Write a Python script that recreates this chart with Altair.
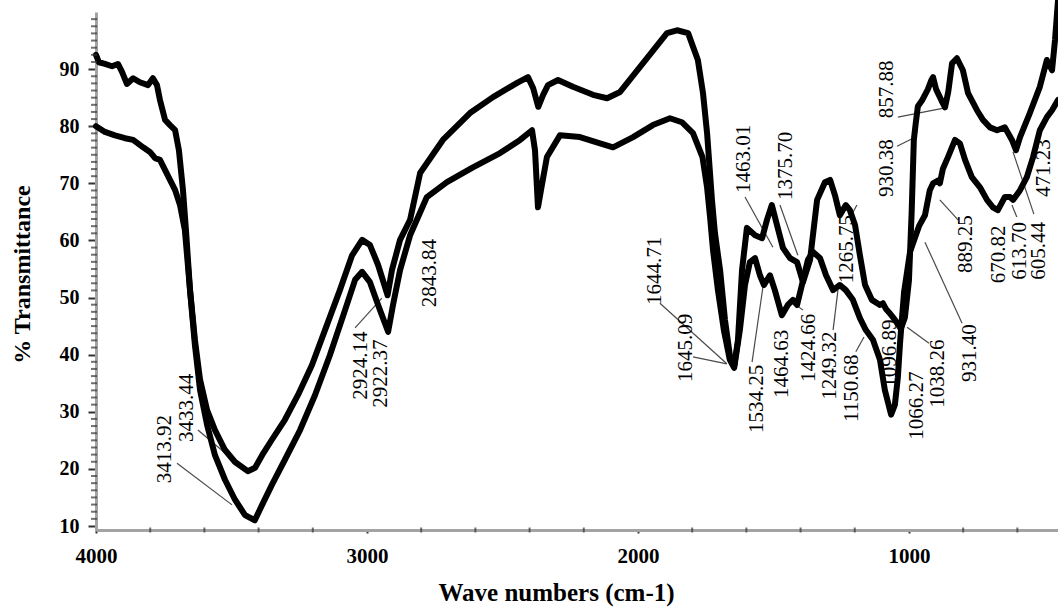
import altair as alt
import pandas as pd

# FTIR spectra: wavenumber (cm-1) and % transmittance for the two samples
upper_wn = [4000, 3989, 3967, 3941, 3919, 3904, 3886, 3863, 3838, 3808, 3790, 3775, 3764, 3745,
            3727, 3708, 3694, 3679, 3668, 3653, 3635, 3616, 3590, 3561, 3524, 3487, 3440, 3413,
            3387, 3351, 3303, 3255, 3203, 3155, 3100, 3055, 3018, 2989, 2959, 2924, 2908, 2878,
            2841, 2804, 2720, 2620, 2535, 2446, 2406, 2387, 2368, 2350, 2332, 2295, 2240, 2166,
            2114, 2066, 1982, 1893, 1856, 1815, 1779, 1760, 1745, 1727, 1716, 1697, 1679, 1661,
            1645, 1631, 1616, 1598, 1568, 1542, 1524, 1506, 1487, 1465, 1439, 1413, 1391, 1365,
            1339, 1310, 1291, 1273, 1255, 1233, 1218, 1199, 1181, 1162, 1137, 1107, 1096, 1085,
            1070, 1050, 1030, 1015, 1000, 990, 982, 975, 967, 952, 941, 930, 918, 911, 900, 893,
            880, 867, 855, 841, 823, 801, 782, 749, 727, 701, 675, 646, 620, 605, 590, 554, 517,
            491, 472, 461, 450]
upper_t = [92.5, 91.2, 90.9, 90.5, 90.9, 89.5, 87.4, 88.4, 87.7, 87.2, 88.4, 87.2, 84.6, 81.1,
           80.2, 79.3, 75.8, 68.8, 61.8, 51.3, 42.6, 35.6, 30.3, 26.8, 23.3, 21.2, 19.6, 20.2,
           22.4, 25.1, 28.6, 32.9, 38.2, 44.3, 51.3, 57.4, 60.1, 59.2, 55.7, 50.4, 54.8, 60.1,
           63.6, 71.8, 77.6, 82.3, 85.1, 87.6, 88.6, 86.7, 83.4, 85.5, 87.2, 88.1, 86.9, 85.5,
           84.9, 86.0, 91.0, 96.3, 96.8, 96.3, 91.6, 85.8, 78.8, 67.1, 61.3, 54.8, 46.1, 39.9,
           38.0, 42.6, 54.8, 62.2, 60.9, 60.4, 63.6, 66.2, 62.7, 58.7, 56.9, 56.2, 52.7, 56.6,
           67.1, 70.2, 70.6, 67.9, 64.4, 66.2, 65.3, 62.7, 57.4, 52.2, 49.6, 48.7, 49.0, 48.0,
           47.2, 46.0, 44.5, 46.5, 53.0, 65.0, 77.6, 80.5, 83.5, 84.5, 85.5, 86.5, 88.0, 88.6,
           86.5, 85.8, 84.5, 83.3, 86.0, 91.0, 91.9, 89.8, 85.8, 82.8, 81.1, 79.8, 79.3, 79.8,
           77.6, 75.8, 78.1, 82.3, 86.9, 91.6, 89.8, 95.1, 102.0]

lower_wn = [4000, 3967, 3930, 3893, 3863, 3826, 3801, 3782, 3764, 3745, 3727, 3708, 3690, 3672,
            3653, 3635, 3616, 3590, 3561, 3524, 3487, 3450, 3414, 3387, 3351, 3303, 3247, 3192,
            3137, 3081, 3044, 3018, 2989, 2959, 2922, 2904, 2878, 2841, 2779, 2705, 2609, 2509,
            2435, 2391, 2380, 2369, 2358, 2336, 2288, 2214, 2140, 2092, 2018, 1945, 1882, 1838,
            1797, 1762, 1745, 1734, 1723, 1705, 1683, 1661, 1645, 1624, 1605, 1587, 1568, 1550,
            1535, 1513, 1495, 1469, 1447, 1428, 1413, 1395, 1373, 1354, 1328, 1306, 1280, 1255,
            1233, 1207, 1181, 1159, 1133, 1107, 1089, 1066, 1052, 1041, 1033, 1018, 996, 985,
            963, 941, 923, 911, 893, 886, 875, 856, 830, 812, 793, 768, 738, 712, 690, 672, 646,
            627, 616, 590, 565, 542, 517, 491, 472, 450]
lower_t = [80.0, 79.0, 78.4, 77.9, 77.6, 76.3, 75.5, 74.4, 74.1, 72.3, 70.6, 68.8, 66.2, 61.8,
           51.3, 41.7, 33.8, 27.7, 22.4, 18.1, 14.6, 11.9, 11.0, 13.7, 17.2, 21.6, 26.8, 32.9,
           39.9, 47.8, 53.1, 54.5, 52.7, 48.7, 44.0, 48.7, 54.8, 60.9, 67.6, 70.2, 72.8, 75.3,
           77.6, 79.3, 75.8, 65.8, 68.8, 74.6, 78.4, 78.1, 77.0, 76.3, 78.1, 80.2, 81.4, 80.7,
           78.8, 74.6, 69.3, 64.1, 58.3, 51.3, 44.3, 39.1, 37.7, 44.3, 52.2, 56.2, 56.9, 53.9,
           52.2, 53.9, 51.3, 46.9, 48.7, 49.6, 48.7, 52.2, 56.6, 58.0, 56.9, 53.9, 51.3, 52.2,
           51.3, 49.6, 46.4, 44.3, 42.6, 39.1, 33.8, 29.5, 31.2, 36.0, 42.0, 51.0, 58.0, 59.5,
           62.5, 64.4, 68.8, 70.0, 70.5, 70.0, 72.5, 74.6, 77.6, 77.0, 74.1, 71.1, 69.3, 67.1,
           65.8, 65.3, 67.6, 67.6, 67.1, 68.8, 71.1, 74.6, 79.3, 81.6, 82.8, 84.6]

# Peak labels (text start position in data units)
label_text = ["3413.92", "3433.44", "2924.14", "2922.37", "2843.84", "1644.71", "1645.09",
              "1463.01", "1375.70", "1265.75", "1534.25", "1464.63", "1424.66", "1249.32",
              "1150.68", "1096.89", "1066.27", "1038.26", "931.40", "889.25", "670.82",
              "613.70", "605.44", "930.38", "857.88", "471.23"]
label_wn = [3745, 3664, 3022, 2948, 2768, 1937, 1823, 1609, 1454, 1229, 1561, 1469, 1369, 1292,
            1210, 1070, 970, 893, 775, 790, 668, 590, 520, 1081, 1081, 500]
label_t = [17.5, 24.7, 32.1, 30.7, 48.3, 48.7, 35.2, 68.3, 67.1, 52.5, 26.3, 32.4, 35.2, 32.1,
           28.2, 34.2, 25.1, 30.7, 35.2, 54.3, 52.5, 53.1, 53.1, 67.6, 81.4, 67.6]

# Leader lines from labels to the bands
leader_wn1 = [3701, 3624, 3044, 1919, 1797, 1605, 1476, 1214, 1579, 1391, 1280, 1196, 926, 804,
              819, 602, 539, 1044, 1041]
leader_t1 = [21.0, 26.8, 44.7, 49.0, 39.6, 67.6, 66.2, 64.3, 38.7, 47.8, 44.3, 40.5, 42.0, 45.5,
             63.6, 64.1, 64.6, 76.5, 81.6]
leader_wn2 = [3498, 3494, 2945, 1672, 1672, 1502, 1410, 1192, 1539, 1417, 1262, 1166, 1007, 941,
              886, 620, 616, 985, 867]
leader_t2 = [13.7, 21.6, 49.9, 38.4, 38.4, 58.8, 57.4, 66.2, 51.8, 48.7, 51.3, 43.1, 44.8, 59.7,
             67.1, 66.2, 75.5, 77.9, 83.2]

x_ticks = [4000, 3000, 2000, 1000]
y_ticks = [10, 20, 30, 40, 50, 60, 70, 80, 90]
x_minor = [v for v in range(600, 4000, 200) if v % 1000 != 0]
y_minor = [10 + 1.25 * k for k in range(1, 73) if k % 8 != 0]

SERIF = "Liberation Serif"
W, H = 962, 518

spectra = pd.concat([
    pd.DataFrame({"wn": upper_wn, "t": upper_t, "sample": "a"}),
    pd.DataFrame({"wn": lower_wn, "t": lower_t, "sample": "b"}),
])
labels = pd.DataFrame({"wn": label_wn, "t": label_t, "text": label_text})
leaders = pd.DataFrame({"wn": leader_wn1, "t": leader_t1, "wn2": leader_wn2, "t2": leader_t2})

xscale = alt.Scale(domain=[450, 4000], reverse=True, nice=False, zero=False)
yscale = alt.Scale(domain=[9.3, 100], nice=False, zero=False)

x_axis = alt.Axis(
    values=x_ticks, format="d", grid=False, labelFlush=False, labelOverlap=False,
    labelFont=SERIF, labelFontWeight="bold", labelFontSize=21, labelColor="black",
    labelPadding=12, tickSize=3, tickWidth=2, tickColor="#333",
    domainColor="#a3a3a3", domainWidth=3,
    title="Wave numbers (cm-1)", titleFont=SERIF, titleFontWeight="bold",
    titleFontSize=25, titleColor="black", titleX=460, titleY=70,
    titleAlign="center", titleBaseline="alphabetic",
)
y_axis = alt.Axis(
    values=y_ticks, grid=False, labelFlush=False, labelOverlap=False,
    labelFont=SERIF, labelFontWeight="bold", labelFontSize=20, labelColor="black",
    labelPadding=9, tickSize=8, tickWidth=2, tickColor="#333",
    domainColor="#a3a3a3", domainWidth=3,
    title="% Transmittance", titleFont=SERIF, titleFontWeight="bold",
    titleFontSize=24, titleColor="black", titleX=-67, titleY=262,
    titleAlign="center", titleBaseline="alphabetic", titleAngle=270,
)

lines = alt.Chart(spectra).mark_line(
    color="black", strokeWidth=6, strokeJoin="round", strokeCap="round"
).encode(
    x=alt.X("wn:Q", scale=xscale, axis=x_axis),
    y=alt.Y("t:Q", scale=yscale, axis=y_axis),
    detail="sample:N",
)

leader_rules = alt.Chart(leaders).mark_rule(color="#4a4a4a", strokeWidth=1.2).encode(
    x=alt.X("wn:Q", scale=xscale),
    x2="wn2:Q",
    y=alt.Y("t:Q", scale=yscale),
    y2="t2:Q",
)

texts = alt.Chart(labels).mark_text(
    angle=270, align="left", baseline="middle",
    font=SERIF, fontSize=21, color="black",
).encode(
    x=alt.X("wn:Q", scale=xscale),
    y=alt.Y("t:Q", scale=yscale),
    text="text:N",
)

x_minor_ticks = alt.Chart(pd.DataFrame({"wn": x_minor})).mark_tick(
    orient="vertical", size=5, thickness=2, color="#333"
).encode(
    x=alt.X("wn:Q", scale=xscale),
    y=alt.value(H),
)

y_minor_ticks = alt.Chart(pd.DataFrame({"t": y_minor})).mark_tick(
    orient="horizontal", size=6, thickness=2, color="#333"
).encode(
    y=alt.Y("t:Q", scale=yscale),
    x=alt.value(-2),
)

chart = alt.layer(
    leader_rules, lines, texts, x_minor_ticks, y_minor_ticks
).properties(
    width=W, height=H,
    autosize=alt.AutoSizeParams(type="none"),
    padding={"left": 96, "top": 12, "right": 0, "bottom": 78},
    background="white",
).configure_view(stroke=None)

chart.save("out.html", embed_options={"renderer": "svg", "actions": False})
